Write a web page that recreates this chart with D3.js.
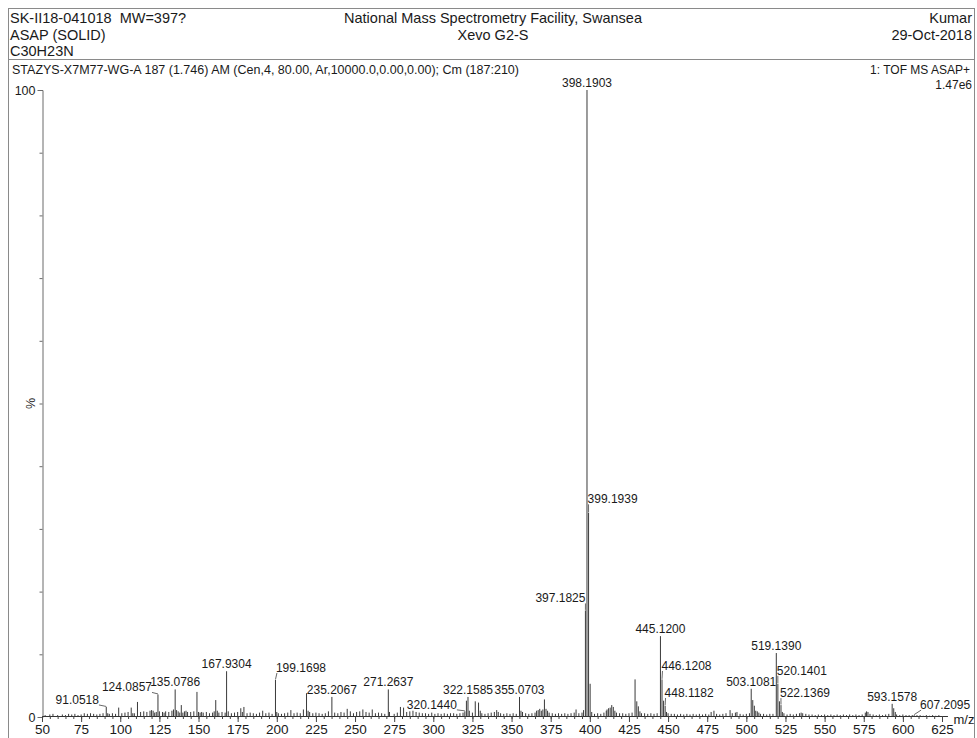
<!DOCTYPE html>
<html>
<head>
<meta charset="utf-8">
<script src="https://cdn.jsdelivr.net/npm/d3@7/dist/d3.min.js"></script>
<style>
  html, body { margin: 0; padding: 0; background: #fff; }
  svg { display: block; font-family: "Liberation Sans", Arial, Helvetica, sans-serif; }
  text { fill: #1a1a1a; white-space: pre; }
</style>
</head>
<body>
<svg id="chart" width="977" height="738"></svg>
<script>
// ---- Spectrum data: centroided m/z and relative intensity (% of base peak) ----
const peakMz = [
  52, 55, 57, 60, 63, 65, 67, 69, 71, 73, 75, 77, 79, 81, 83, 85, 87, 89,
  91.0518, 92, 93, 95, 97, 99, 101, 103, 105, 107, 108, 109, 111, 113, 115, 117,
  119, 120, 121, 122, 123, 124.0857, 125, 127, 128, 129, 131, 133, 134, 135.0786,
  136, 137, 138, 139, 140, 141, 142, 143, 145, 147, 149, 150, 151, 152, 153, 155,
  157, 159, 160, 161, 162, 163, 165, 167, 167.9304, 169, 171, 173, 175, 177, 178,
  179, 181, 183, 185, 187, 189, 191, 193, 195, 197, 199.1698, 200, 201, 203, 205,
  207, 209, 211, 213, 215, 217, 219, 220, 221, 223, 225, 227, 229, 231, 233,
  235.2067, 237, 239, 241, 243, 245, 247, 249, 251, 253, 255, 257, 259, 261, 263,
  265, 267, 269, 271.2637, 272, 275, 277, 279, 281, 283, 285, 287, 289, 291, 293,
  295, 297, 299, 301, 303, 305, 307, 309, 311, 313, 315, 317, 319, 320.1440,
  321.15, 322.1585, 323, 325, 326.8, 328.9, 330, 331, 333, 335, 337, 339, 340.5,
  341.5, 343, 345, 347, 349, 351, 353, 355.0703, 356, 357, 359, 361, 363, 365, 366,
  367, 368, 369, 370, 371, 372, 373, 374, 376, 378, 380, 382, 384, 386, 388, 390,
  391.2, 393, 395, 396, 397.1825, 398.1903, 399.1939, 400.2, 401.2, 403, 405, 407,
  409, 410.5, 411, 412, 413, 414, 415, 416, 417, 419, 421, 423, 425, 427, 428.9,
  430, 431, 432, 433, 435, 437, 439, 441, 443, 445.1200, 446.1208, 447.12, 448.1182,
  449, 450, 452, 454, 456, 458, 460, 462, 464, 466, 468, 470, 472, 474, 476, 477.5,
  479.3, 481, 483, 485, 487, 489.6, 491, 493, 494, 496, 498, 500, 502, 503.1081,
  504.1, 505.1, 506, 507, 508, 509, 511, 513, 515, 517, 519.1390, 520.1401, 521.14,
  522.1369, 523, 524, 526, 528, 530, 532, 534, 535, 536, 538, 540, 542, 544, 546,
  548, 550, 552, 554, 556, 558, 560, 562, 564, 566, 568, 570, 572, 574, 576, 576.8,
  577.7, 579, 581, 583, 585, 587, 589, 591, 593.1578, 594.16, 595.16, 596, 598, 600,
  602, 604, 606, 607.2095, 609, 611, 613, 615, 617, 619, 621, 623
];
const peakPct = [
  0.3, 0.4, 0.5, 0.3, 0.4, 0.3, 0.5, 0.4, 0.5, 0.3, 0.4, 0.6, 0.5, 0.6, 0.5, 0.4, 0.5, 0.6,
  1.6, 0.6, 0.5, 0.6, 0.5, 1.5, 0.6, 0.7, 0.8, 1.5, 0.6, 0.6, 2.4, 0.8, 0.9, 0.8,
  1.0, 1.1, 1.0, 0.7, 0.8, 3.6, 0.9, 0.8, 0.7, 0.9, 0.8, 1.0, 1.2, 4.4,
  1.1, 0.9, 0.7, 1.9, 0.7, 0.9, 1.0, 0.8, 0.8, 0.9, 4.0, 0.8, 0.7, 0.8, 0.7, 0.8,
  0.6, 0.7, 0.9, 2.7, 1.0, 0.7, 0.8, 0.7, 7.3, 0.9, 0.6, 0.7, 0.8, 1.4, 0.8,
  1.6, 0.6, 0.7, 0.6, 0.5, 0.7, 1.0, 0.6, 0.7, 0.5, 5.9, 0.8, 0.6, 0.5, 0.6,
  0.7, 1.1, 0.6, 0.7, 0.6, 1.2, 3.8, 1.0, 0.8, 0.6, 0.7, 0.6, 0.5, 0.6, 0.9,
  3.2, 0.7, 0.6, 0.8, 0.7, 1.3, 0.9, 0.6, 0.8, 0.9, 1.2, 0.8, 0.7, 1.2, 0.6,
  0.7, 0.6, 0.5, 4.4, 0.8, 0.5, 0.7, 1.6, 1.5, 0.8, 0.9, 1.0, 0.8, 0.7, 0.6,
  0.6, 0.5, 0.7, 0.5, 0.6, 0.5, 0.6, 0.5, 0.6, 0.6, 0.5, 0.6, 0.7, 0.9,
  2.6, 3.2, 1.0, 0.7, 2.5, 2.3, 1.0, 0.6, 0.5, 0.6, 0.7, 0.8, 1.1,
  0.8, 0.6, 0.5, 0.6, 0.5, 0.6, 0.5, 3.2, 1.0, 0.8, 0.6, 0.5, 0.6, 0.7, 1.0,
  1.1, 1.3, 1.0, 1.2, 2.8, 1.3, 1.0, 0.7, 0.6, 0.5, 0.6, 0.5, 0.6, 0.5, 0.6, 0.7,
  1.2, 0.6, 0.7, 1.1, 17.0, 100, 32.6, 5.3, 0.8, 0.5, 0.6, 0.5,
  0.7, 1.0, 1.2, 1.4, 1.5, 1.9, 1.6, 1.0, 0.7, 0.6, 0.6, 0.5, 0.6, 0.7, 6.0,
  2.5, 1.7, 0.9, 0.6, 0.6, 0.5, 0.6, 0.5, 0.6, 12.9, 6.0, 2.6, 1.8,
  0.8, 0.6, 0.5, 0.5, 0.4, 0.5, 0.4, 0.5, 0.4, 0.5, 0.4, 0.5, 0.4, 0.5, 0.4, 0.8,
  1.0, 0.5, 0.4, 0.5, 0.6, 1.1, 0.6, 0.7, 0.8, 0.5, 0.4, 0.5, 0.6, 4.5,
  2.7, 1.8, 1.0, 0.9, 0.7, 0.5, 0.5, 0.4, 0.5, 0.5, 10.2, 5.3, 2.5,
  1.9, 0.8, 0.6, 0.4, 0.5, 0.4, 0.5, 0.6, 0.7, 0.6, 0.5, 0.4, 0.4, 0.3, 0.4,
  0.3, 0.4, 0.3, 0.4, 0.3, 0.4, 0.3, 0.4, 0.3, 0.4, 0.3, 0.4, 0.3, 0.4, 0.7, 0.9,
  0.8, 0.5, 0.4, 0.3, 0.4, 0.3, 0.4, 0.5, 2.1, 1.4, 0.8, 0.4, 0.3, 0.4,
  0.3, 0.3, 0.3, 0.3, 0.3, 0.3, 0.2, 0.3, 0.2, 0.3, 0.2, 0.3
];

// Peaks annotated with their accurate mass
const labelMz = [
  91.0518, 124.0857, 135.0786, 167.9304, 199.1698, 235.2067, 271.2637, 320.1440,
  322.1585, 355.0703, 397.1825, 398.1903, 399.1939, 445.1200, 446.1208, 448.1182,
  503.1081, 519.1390, 520.1401, 522.1369, 593.1578, 607.2095
];

// Axis ticks
const xMajorTicks = [50, 75, 100, 125, 150, 175, 200, 225, 250, 275, 300, 325, 350,
  375, 400, 425, 450, 475, 500, 525, 550, 575, 600, 625];
const yLabelTicks = [0, 100];

// Header texts
const headerLeft = ["SK-II18-041018  MW=397?", "ASAP (SOLID)", "C30H23N"];
const headerCenter = ["National Mass Spectrometry Facility, Swansea", "Xevo G2-S"];
const headerRight = ["Kumar", "29-Oct-2018"];
const scanInfo = "STAZYS-X7M77-WG-A 187 (1.746) AM (Cen,4, 80.00, Ar,10000.0,0.00,0.00); Cm (187:210)";
const functionInfo = "1: TOF MS ASAP+";
const baseIntensity = "1.47e6";

// ---- Drawing ----
const svg = d3.select("#chart");
const W = 977, H = 738;

// outer frame and header separator
svg.append("rect").attr("x", 8.5).attr("y", 8.5).attr("width", 966).attr("height", H)
  .attr("fill", "none").attr("stroke", "#8a8a8a").attr("stroke-width", 1);
svg.append("line").attr("x1", 8.5).attr("x2", 974.5).attr("y1", 59.5).attr("y2", 59.5)
  .attr("stroke", "#8a8a8a");

const hdrSize = "14.5px";
headerLeft.forEach((t, i) => svg.append("text").attr("x", 10).attr("y", 23 + i * 16.5)
  .attr("font-size", hdrSize).text(t));
headerCenter.forEach((t, i) => svg.append("text").attr("x", 493).attr("y", 23 + i * 16.5)
  .attr("text-anchor", "middle").attr("font-size", hdrSize).text(t));
headerRight.forEach((t, i) => svg.append("text").attr("x", 972).attr("y", 23 + i * 16.5)
  .attr("text-anchor", "end").attr("font-size", hdrSize).text(t));
svg.append("text").attr("x", 12).attr("y", 73.5).attr("font-size", "12.5px").text(scanInfo);
svg.append("text").attr("x", 970).attr("y", 73.5).attr("text-anchor", "end")
  .attr("font-size", "12px").text(functionInfo);
svg.append("text").attr("x", 972).attr("y", 88.5).attr("text-anchor", "end")
  .attr("font-size", "12px").text(baseIntensity);

// scales
const x = d3.scaleLinear().domain([50, 628.5]).range([42, 42 + 578.5 * (900 / 575)]);
const y = d3.scaleLinear().domain([0, 100]).range([717, 90]);

// y axis: minor ticks every 10 %, labelled ticks at 0 and 100
const yMinor = svg.append("g").attr("transform", "translate(42.5,0)")
  .call(d3.axisLeft(y).tickValues(d3.range(0, 101, 10)).tickSize(3).tickFormat(""));
yMinor.select(".domain").attr("stroke", "#6a6a6a");
yMinor.selectAll(".tick line").attr("stroke", "#6a6a6a");
const yMajor = svg.append("g").attr("transform", "translate(42.5,0)")
  .call(d3.axisLeft(y).tickValues(yLabelTicks).tickSize(5).tickPadding(2));
yMajor.select(".domain").remove();
yMajor.selectAll(".tick line").attr("stroke", "#6a6a6a");
yMajor.selectAll(".tick text").attr("font-size", "12.5px").attr("fill", "#1a1a1a")
  .attr("font-family", "Liberation Sans, Arial, sans-serif");

svg.append("text").attr("transform", `translate(35,${y(50)}) rotate(-90)`)
  .attr("text-anchor", "middle").attr("font-size", "12.5px").text("%");

// peaks
svg.append("g").selectAll("line").data(peakMz.map((m, i) => [m, peakPct[i]]))
  .join("line")
  .attr("x1", d => x(d[0])).attr("x2", d => x(d[0]))
  .attr("y1", y(0)).attr("y2", d => y(d[1]))
  .attr("stroke", "#3a3a3a").attr("stroke-width", 1);

// x axis: minor ticks every 5, major labelled ticks every 25
const xMinor = svg.append("g").attr("transform", `translate(0,${y(0) - 1})`)
  .call(d3.axisBottom(x).tickValues(d3.range(50, 628, 5)).tickSize(3).tickFormat("").tickSizeOuter(0));
xMinor.select(".domain").attr("stroke", "#333");
xMinor.selectAll(".tick line").attr("stroke", "#444");
const xMajor = svg.append("g").attr("transform", `translate(0,${y(0)})`)
  .call(d3.axisBottom(x).tickValues(xMajorTicks).tickSize(5).tickPadding(2).tickSizeOuter(0));
xMajor.select(".domain").remove();
xMajor.selectAll(".tick line").attr("stroke", "#444");
xMajor.selectAll(".tick text").attr("font-size", "13.5px").attr("fill", "#1a1a1a")
  .attr("font-family", "Liberation Sans, Arial, sans-serif");
svg.append("text").attr("x", 964).attr("y", 724).attr("text-anchor", "middle")
  .attr("font-size", "13px").text("m/z");

// peak annotations; offset labels get a short leader line back to the peak top
const labelLayout = {
  "91.0518": [-29, -3], "124.0857": [-31, -3], "199.1698": [25.5, -8],
  "320.1440": [-33, -2.5], "397.1825": [-25, -8], "399.1939": [24, -9.3],
  "446.1208": [24.5, -9.4], "448.1182": [24, -8.7], "520.1401": [24, -9],
  "522.1369": [24, -8], "607.2095": [31, -6]
};
const labels = svg.append("g");
labelMz.forEach(m => {
  const i = peakMz.indexOf(m);
  const px = x(m), top = y(peakPct[i]);
  const txt = m.toFixed(4);
  const off = labelLayout[txt];
  const dx = off ? off[0] : 0, dy = off ? off[1] : -3;
  const t = labels.append("text").attr("x", px + dx).attr("y", top + dy)
    .attr("text-anchor", "middle").attr("font-size", "12px").text(txt);
  if (off) {
    const w = t.node().getComputedTextLength();
    const ex = dx < 0 ? px + dx + w / 2 : px + dx - w / 2 + 1;
    labels.append("line").attr("x1", px).attr("y1", top - 0.5)
      .attr("x2", ex).attr("y2", top + dy + 1)
      .attr("stroke", "#6a6a6a").attr("stroke-width", 1);
  }
});
</script>
</body>
</html>
